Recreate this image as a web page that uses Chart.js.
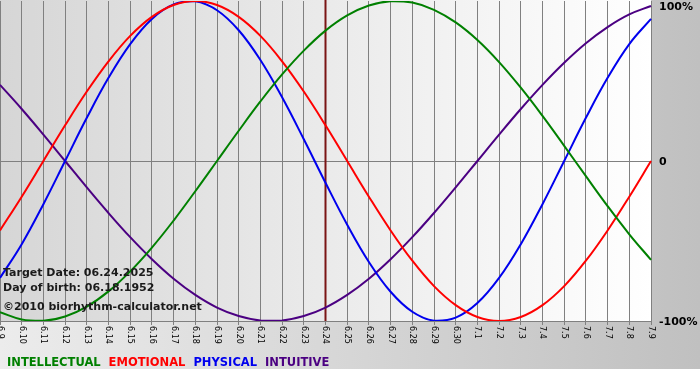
<!DOCTYPE html>
<html>
<head>
<meta charset="utf-8">
<script src="https://cdn.jsdelivr.net/npm/chart.js@4/dist/chart.umd.min.js"></script>
<style>
html,body{margin:0;padding:0;background:#fff;}
#wrap{width:700px;height:380px;}
</style>
</head>
<body>
<div id="wrap"><canvas id="c" width="700" height="380"></canvas></div>
<script>
// ---- data ----
const dateLabels = ['6.9','6.10','6.11','6.12','6.13','6.14','6.15','6.16','6.17','6.18','6.19','6.20','6.21','6.22','6.23','6.24','6.25','6.26','6.27','6.28','6.29','6.30','7.1','7.2','7.3','7.4','7.5','7.6','7.7','7.8','7.9'];
const intellectual = [-94.5,-99.0,-99.9,-97.2,-91.0,-81.5,-69.0,-54.1,-37.2,-18.9,0,18.9,37.2,54.1,69.0,81.5,91.0,97.2,99.9,99.0,94.5,86.6,75.6,61.8,45.8,28.2,9.5,-9.5,-28.2,-45.8,-61.8];
const emotional = [-43.4,-22.3,0,22.3,43.4,62.3,78.2,90.1,97.5,100,97.5,90.1,78.2,62.3,43.4,22.3,0,-22.3,-43.4,-62.3,-78.2,-90.1,-97.5,-100,-97.5,-90.1,-78.2,-62.3,-43.4,-22.3,0];
const physical = [-73.1,-52.0,-27.0,0,27.0,52.0,73.1,88.8,97.9,99.8,94.2,81.7,63.1,39.8,13.6,-13.6,-39.8,-63.1,-81.7,-94.2,-99.8,-97.9,-88.8,-73.1,-52.0,-27.0,0,27.0,52.0,73.1,88.8];
const intuitive = [47.6,32.5,16.5,0,-16.5,-32.5,-47.6,-61.4,-73.6,-83.7,-91.6,-96.9,-99.7,-99.7,-96.9,-91.6,-83.7,-73.6,-61.4,-47.6,-32.5,-16.5,0,16.5,32.5,47.6,61.4,73.6,83.7,91.6,96.9];
const seriesNames = ['INTELLECTUAL','EMOTIONAL','PHYSICAL','INTUITIVE'];
const yTickValues = [100, 0, -100];
const yTickLabels = ['100%', '0', '-100%'];
const targetLabel = '6.24';
const infoLines = ['Target Date: 06.24.2025', 'Day of birth: 06.18.1952', '\u00A92010 biorhythm-calculator.net'];

const colors = ['#008000', '#ff0000', '#0000ee', '#4b0082'];
const BOLD = 'bold 11px "DejaVu Sans", Verdana, sans-serif';
const LEGEND_FONT = 'bold 11.5px "DejaVu Sans", Verdana, sans-serif';

const decor = {
  id: 'decor',
  beforeDraw(chart) {
    const {ctx, chartArea: a, width, height} = chart;
    ctx.save();
    let g = ctx.createLinearGradient(0, 0, width, 0);
    g.addColorStop(0, '#ececec');
    g.addColorStop(1, '#c0c0c0');
    ctx.fillStyle = g;
    ctx.fillRect(0, 0, width, height);
    ctx.fillStyle = '#ffffff';
    ctx.fillRect(0, 369, width, height - 369);
    g = ctx.createLinearGradient(a.left, 0, a.right, 0);
    g.addColorStop(0, '#d6d6d6');
    g.addColorStop(1, '#ffffff');
    ctx.fillStyle = g;
    ctx.fillRect(a.left, 0, a.right - a.left, a.bottom);
    ctx.restore();
  },
  beforeDatasetsDraw(chart) {
    const {ctx, chartArea: a, scales} = chart;
    const x = scales.x.getPixelForValue(dateLabels.indexOf(targetLabel));
    ctx.save();
    ctx.strokeStyle = '#7a1515';
    ctx.lineWidth = 2;
    ctx.beginPath();
    ctx.moveTo(x, 0);
    ctx.lineTo(x, a.bottom);
    ctx.stroke();
    ctx.restore();
  },
  afterDatasetsDraw(chart) {
    const {ctx, chartArea: a, scales} = chart;
    ctx.save();
    // x labels rotated clockwise
    ctx.font = '8px "DejaVu Sans", Verdana, sans-serif';
    ctx.fillStyle = '#000';
    ctx.textAlign = 'left';
    ctx.textBaseline = 'middle';
    dateLabels.forEach((lab, i) => {
      const x = scales.x.getPixelForValue(i);
      ctx.save();
      ctx.translate(x, a.bottom + 5);
      ctx.rotate(Math.PI / 2);
      ctx.fillText(lab, 0, 0);
      ctx.restore();
    });
    // right labels
    ctx.font = BOLD;
    yTickValues.forEach((v, i) => {
      const y = Math.max(scales.y.getPixelForValue(v) + 1, 7);
      ctx.fillText(yTickLabels[i], a.right + 8, y);
    });
    // info lines
    ctx.fillStyle = '#1a1a1a';
    ctx.textBaseline = 'alphabetic';
    const ys = [276, 291, 310];
    infoLines.forEach((t, i) => ctx.fillText(t, 3, ys[i]));
    // legend
    ctx.font = LEGEND_FONT;
    let lx = 7;
    chart.data.datasets.forEach(ds => {
      ctx.fillStyle = ds.borderColor;
      ctx.fillText(ds.label, lx, 366);
      lx += ctx.measureText(ds.label).width + 8;
    });
    ctx.restore();
  }
};

const seriesData = [intellectual, emotional, physical, intuitive];
new Chart(document.getElementById('c'), {
  type: 'line',
  data: {
    labels: dateLabels,
    datasets: seriesNames.map((n, i) => ({
      label: n,
      data: seriesData[i],
      borderColor: colors[i],
      borderWidth: 2,
      pointRadius: 0,
      tension: 0.4,
      fill: false
    }))
  },
  options: {
    responsive: false,
    animation: false,
    devicePixelRatio: 1,
    layout: {padding: {left: 0, right: 49, top: 1, bottom: 55}},
    plugins: {legend: {display: false}, tooltip: {enabled: false}},
    scales: {
      x: {
        type: 'category',
        offset: false,
        grid: {color: '#808080', lineWidth: 1, tickLength: 4, drawTicks: true},
        border: {display: true, color: '#808080'},
        ticks: {display: false},
        afterFit(s) { s.height = 4; }
      },
      y: {
        position: 'right',
        min: -100,
        max: 100,
        grid: {
          color: ctx => (ctx.tick && ctx.tick.value === 0) ? '#808080' : 'rgba(0,0,0,0)',
          drawTicks: false
        },
        border: {display: false},
        ticks: {display: false, stepSize: 100},
        afterFit(s) { s.width = 0; }
      }
    }
  },
  plugins: [decor]
});
</script>
</body>
</html>
